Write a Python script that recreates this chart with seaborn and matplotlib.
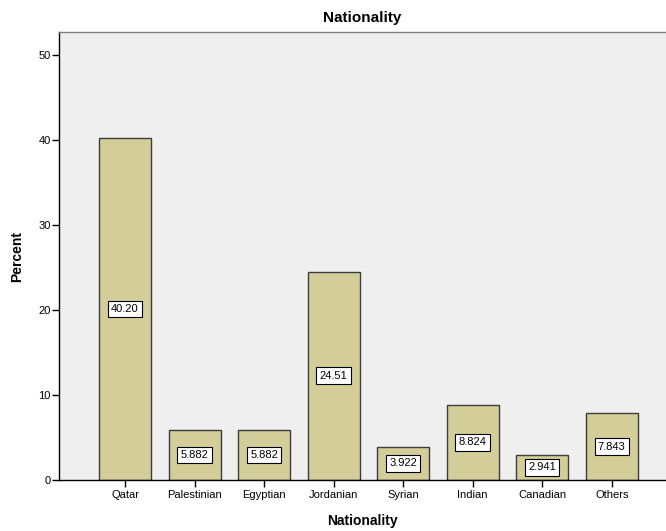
import matplotlib
matplotlib.use("Agg")
import matplotlib.pyplot as plt
import seaborn as sns
import pandas as pd

categories = ["Qatar", "Palestinian", "Egyptian", "Jordanian", "Syrian", "Indian", "Canadian", "Others"]
percents = [40.20, 5.882, 5.882, 24.51, 3.922, 8.824, 2.941, 7.843]
labels = ["40.20", "5.882", "5.882", "24.51", "3.922", "8.824", "2.941", "7.843"]

sns.set_theme(style="white")
plt.rcParams['font.family'] = ['Liberation Sans', 'DejaVu Sans']
plt.rcParams['text.color'] = 'black'
plt.rcParams['axes.labelcolor'] = 'black'
plt.rcParams['xtick.color'] = 'black'
plt.rcParams['ytick.color'] = 'black'

df = pd.DataFrame({"Nationality": categories, "Percent": percents})

fig = plt.figure(figsize=(6.66, 5.31), dpi=100)
ax = fig.add_axes([59/666, 1 - 480/531, 1 - 59/666, (480 - 32)/531])
ax.set_facecolor("#EFEFEF")

sns.barplot(data=df, x="Nationality", y="Percent", ax=ax, color="#D3CE99",
            saturation=1, width=0.75, edgecolor="#3C3C3C", linewidth=1.0)

for i, (v, lab) in enumerate(zip(percents, labels)):
    ax.text(i, v / 2, lab, ha="center", va="center", fontsize=8, color="black",
            bbox=dict(boxstyle="square,pad=0.3", facecolor="white", edgecolor="black", linewidth=0.8))

ax.set_xlim(-0.95, 7.78)
ax.set_ylim(0, 52.7)
ax.set_yticks([0, 10, 20, 30, 40, 50])
ax.tick_params(axis="y", direction="out", length=5, width=1, labelsize=8, color="black", labelcolor="black", left=True, pad=1)
ax.tick_params(axis="x", direction="out", length=5, width=1, labelsize=8, color="black", labelcolor="black", bottom=True, pad=2)

for s in ["left", "bottom"]:
    ax.spines[s].set_color("black")
    ax.spines[s].set_linewidth(1.0)
ax.spines["top"].set_color("#808080")
ax.spines["top"].set_linewidth(1.0)
ax.spines["right"].set_visible(False)

ax.set_title("Nationality", fontsize=11, fontweight="bold", pad=7, color="black")
ax.set_xlabel("Nationality", fontsize=10, fontweight="bold", labelpad=10, color="black")
ax.set_ylabel("Percent", fontsize=10, fontweight="bold", labelpad=10, color="black")

fig.savefig("out.png", dpi=100)
